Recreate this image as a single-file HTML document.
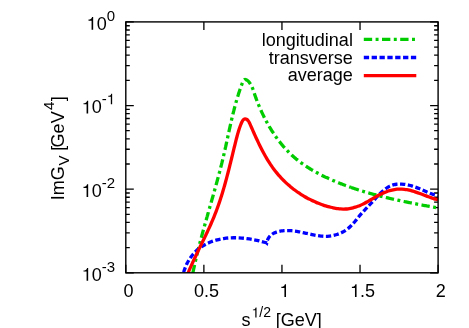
<!DOCTYPE html>
<html><head><meta charset="utf-8"><title>plot</title>
<style>html,body{margin:0;padding:0;background:#fff;overflow:hidden}body{width:469px;height:328px;position:relative;font-family:"Liberation Sans",sans-serif}</style>
</head><body>
<svg width="469" height="328" viewBox="0 0 469 328" style="display:block;position:absolute;left:0;top:0;will-change:transform">
<defs><clipPath id="pc"><rect x="123.80" y="19.90" width="314.70" height="253.20"/></clipPath></defs>
<rect width="469" height="328" fill="#fff"/>
<path d="M125.80,21.90h8M438.10,21.90h-8M125.80,80.36h4M438.10,80.36h-4M125.80,65.63h4M438.10,65.63h-4M125.80,55.18h4M438.10,55.18h-4M125.80,47.08h4M438.10,47.08h-4M125.80,40.45h4M438.10,40.45h-4M125.80,34.85h4M438.10,34.85h-4M125.80,30.00h4M438.10,30.00h-4M125.80,25.73h4M438.10,25.73h-4M125.80,105.53h8M438.10,105.53h-8M125.80,163.99h4M438.10,163.99h-4M125.80,149.26h4M438.10,149.26h-4M125.80,138.81h4M438.10,138.81h-4M125.80,130.71h4M438.10,130.71h-4M125.80,124.09h4M438.10,124.09h-4M125.80,118.49h4M438.10,118.49h-4M125.80,113.64h4M438.10,113.64h-4M125.80,109.36h4M438.10,109.36h-4M125.80,189.17h8M438.10,189.17h-8M125.80,247.62h4M438.10,247.62h-4M125.80,232.90h4M438.10,232.90h-4M125.80,222.45h4M438.10,222.45h-4M125.80,214.34h4M438.10,214.34h-4M125.80,207.72h4M438.10,207.72h-4M125.80,202.12h4M438.10,202.12h-4M125.80,197.27h4M438.10,197.27h-4M125.80,192.99h4M438.10,192.99h-4M125.80,272.80h8M438.10,272.80h-8M125.80,272.80v-8M125.80,21.90v8M203.88,272.80v-8M203.88,21.90v8M281.95,272.80v-8M281.95,21.90v8M360.03,272.80v-8M360.03,21.90v8M438.10,272.80v-8M438.10,21.90v8" stroke="#000" stroke-width="1.3" fill="none"/>
<g clip-path="url(#pc)" fill="none" stroke-width="3.3" stroke-linejoin="miter">
<path d="M192.24,276.07C192.28,275.89 192.39,275.33 192.46,274.96C192.54,274.59 192.61,274.22 192.69,273.84C192.76,273.47 192.84,273.10 192.91,272.73C192.99,272.36 193.07,271.99 193.14,271.62C193.22,271.25 193.30,270.88 193.37,270.51C193.45,270.14 193.53,269.77 193.61,269.40C193.69,269.03 193.77,268.66 193.84,268.29C193.92,267.92 194.00,267.55 194.08,267.18C194.16,266.81 194.24,266.44 194.33,266.07C194.41,265.70 194.49,265.33 194.57,264.96C194.65,264.59 194.73,264.22 194.82,263.85C194.90,263.48 194.98,263.12 195.07,262.75C195.15,262.38 195.23,262.01 195.32,261.64C195.40,261.27 195.49,260.90 195.57,260.53C195.66,260.16 195.74,259.80 195.83,259.43C195.92,259.06 196.00,258.69 196.09,258.32C196.18,257.95 196.26,257.59 196.35,257.22C196.44,256.85 196.52,256.48 196.61,256.11C196.70,255.75 196.79,255.38 196.88,255.01C196.97,254.64 197.06,254.27 197.15,253.91C197.24,253.54 197.32,253.17 197.41,252.80C197.51,252.44 197.60,252.07 197.69,251.70C197.78,251.34 197.87,250.97 197.96,250.60C198.05,250.23 198.14,249.87 198.23,249.50C198.33,249.13 198.42,248.77 198.51,248.40C198.60,248.03 198.70,247.66 198.79,247.30C198.88,246.93 198.98,246.56 199.07,246.20C199.16,245.83 199.26,245.46 199.35,245.10C199.45,244.73 199.54,244.37 199.64,244.00C199.73,243.63 199.83,243.27 199.92,242.90C200.02,242.53 200.11,242.17 200.21,241.80C200.31,241.44 200.40,241.07 200.50,240.70C200.59,240.34 200.69,239.97 200.79,239.61C200.88,239.24 200.98,238.87 201.08,238.51C201.18,238.14 201.27,237.78 201.37,237.41C201.47,237.05 201.57,236.68 201.67,236.31C201.76,235.95 201.86,235.58 201.96,235.22C202.06,234.85 202.16,234.49 202.26,234.12C202.36,233.76 202.46,233.39 202.56,233.02C202.65,232.66 202.75,232.29 202.85,231.93C202.95,231.56 203.05,231.20 203.15,230.83C203.25,230.47 203.35,230.10 203.45,229.74C203.56,229.37 203.66,229.01 203.76,228.64C203.86,228.28 203.96,227.91 204.06,227.55C204.16,227.18 204.26,226.82 204.36,226.45C204.46,226.09 204.57,225.72 204.67,225.36C204.77,224.99 204.87,224.63 204.97,224.27C205.07,223.90 205.18,223.54 205.28,223.17C205.38,222.81 205.48,222.44 205.59,222.08C205.69,221.71 205.79,221.35 205.89,220.98C205.99,220.62 206.10,220.25 206.20,219.89C206.30,219.53 206.41,219.16 206.51,218.80C206.61,218.43 206.71,218.07 206.82,217.70C206.92,217.34 207.02,216.97 207.13,216.61C207.23,216.25 207.33,215.88 207.44,215.52C207.54,215.15 207.64,214.79 207.75,214.42C207.85,214.06 207.95,213.70 208.06,213.33C208.16,212.97 208.26,212.60 208.37,212.24C208.47,211.87 208.58,211.51 208.68,211.15C208.78,210.78 208.89,210.42 208.99,210.05C209.09,209.69 209.20,209.32 209.30,208.96C209.41,208.60 209.51,208.23 209.61,207.87C209.72,207.50 209.82,207.14 209.92,206.77C210.03,206.41 210.13,206.05 210.24,205.68C210.34,205.32 210.44,204.95 210.55,204.59C210.65,204.23 210.75,203.86 210.86,203.50C210.96,203.13 211.07,202.77 211.17,202.40C211.27,202.04 211.38,201.68 211.48,201.31C211.58,200.95 211.69,200.58 211.79,200.22C211.89,199.85 212.00,199.49 212.10,199.13C212.20,198.76 212.31,198.40 212.41,198.03C212.51,197.67 212.62,197.30 212.72,196.94C212.82,196.58 212.93,196.21 213.03,195.85C213.13,195.48 213.23,195.12 213.34,194.75C213.44,194.39 213.54,194.03 213.65,193.66C213.75,193.30 213.85,192.93 213.95,192.57C214.06,192.20 214.16,191.84 214.26,191.47C214.36,191.11 214.46,190.74 214.57,190.38C214.67,190.02 214.77,189.65 214.87,189.29C214.97,188.92 215.07,188.56 215.18,188.19C215.28,187.83 215.38,187.46 215.48,187.10C215.58,186.73 215.68,186.37 215.78,186.00C215.88,185.64 215.98,185.27 216.08,184.91C216.18,184.54 216.28,184.18 216.38,183.81C216.48,183.45 216.58,183.08 216.68,182.72C216.78,182.35 216.88,181.99 216.98,181.62C217.08,181.26 217.18,180.89 217.28,180.53C217.38,180.16 217.48,179.80 217.58,179.43C217.68,179.07 217.77,178.70 217.87,178.34C217.97,177.97 218.07,177.61 218.17,177.24C218.27,176.88 218.36,176.51 218.46,176.15C218.56,175.78 218.65,175.41 218.75,175.05C218.85,174.68 218.95,174.32 219.04,173.95C219.14,173.59 219.23,173.22 219.33,172.85C219.43,172.49 219.52,172.12 219.62,171.76C219.71,171.39 219.81,171.02 219.90,170.66C220.00,170.29 220.09,169.93 220.19,169.56C220.28,169.19 220.38,168.83 220.47,168.46C220.56,168.10 220.66,167.73 220.75,167.36C220.84,167.00 220.94,166.63 221.03,166.26C221.12,165.90 221.21,165.53 221.31,165.16C221.40,164.80 221.49,164.43 221.58,164.06C221.67,163.70 221.76,163.33 221.86,162.96C221.95,162.60 222.04,162.23 222.13,161.86C222.22,161.49 222.31,161.13 222.40,160.76C222.49,160.39 222.57,160.03 222.66,159.66C222.75,159.29 222.84,158.92 222.93,158.56C223.02,158.19 223.11,157.82 223.19,157.45C223.28,157.09 223.37,156.72 223.45,156.35C223.54,155.98 223.63,155.61 223.71,155.25C223.80,154.88 223.88,154.51 223.97,154.14C224.06,153.77 224.14,153.41 224.22,153.04C224.31,152.67 224.39,152.30 224.48,151.93C224.56,151.56 224.64,151.19 224.73,150.83C224.81,150.46 224.89,150.09 224.98,149.72C225.06,149.35 225.14,148.98 225.22,148.61C225.31,148.24 225.39,147.88 225.47,147.51C225.55,147.14 225.63,146.77 225.72,146.40C225.80,146.03 225.88,145.66 225.96,145.29C226.04,144.92 226.12,144.55 226.20,144.18C226.28,143.82 226.36,143.45 226.44,143.08C226.52,142.71 226.60,142.34 226.69,141.97C226.77,141.60 226.85,141.23 226.93,140.86C227.01,140.49 227.09,140.12 227.17,139.75C227.25,139.38 227.33,139.01 227.41,138.64C227.49,138.27 227.57,137.90 227.65,137.53C227.73,137.17 227.80,136.80 227.88,136.43C227.96,136.06 228.04,135.69 228.12,135.32C228.20,134.95 228.28,134.58 228.36,134.21C228.44,133.84 228.52,133.47 228.61,133.10C228.69,132.73 228.77,132.36 228.85,131.99C228.93,131.62 229.01,131.25 229.09,130.88C229.17,130.51 229.25,130.14 229.33,129.77C229.41,129.40 229.49,129.03 229.57,128.66C229.66,128.29 229.74,127.92 229.82,127.55C229.90,127.18 229.98,126.82 230.06,126.45C230.15,126.08 230.23,125.71 230.31,125.34C230.39,124.97 230.48,124.60 230.56,124.23C230.64,123.86 230.73,123.49 230.81,123.12C230.89,122.75 230.98,122.38 231.06,122.01C231.15,121.64 231.23,121.27 231.32,120.90C231.40,120.54 231.49,120.17 231.57,119.80C231.66,119.43 231.75,119.06 231.83,118.69C231.92,118.32 232.01,117.95 232.09,117.58C232.18,117.21 232.27,116.85 232.36,116.48C232.45,116.11 232.53,115.74 232.62,115.37C232.71,115.00 232.80,114.63 232.89,114.27C232.98,113.90 233.07,113.53 233.16,113.16C233.26,112.79 233.35,112.42 233.44,112.05C233.53,111.69 233.62,111.32 233.72,110.95C233.81,110.58 233.91,110.21 234.00,109.85C234.09,109.48 234.19,109.11 234.29,108.74C234.38,108.38 234.48,108.01 234.57,107.64C234.67,107.27 234.77,106.91 234.87,106.54C234.97,106.17 235.06,105.80 235.16,105.44C235.26,105.07 235.36,104.70 235.46,104.34C235.57,103.97 235.67,103.60 235.77,103.23C235.87,102.87 235.97,102.50 236.08,102.13C236.18,101.77 236.29,101.40 236.39,101.04C236.50,100.67 236.60,100.30 236.71,99.94C236.82,99.57 236.93,99.21 237.03,98.84C237.14,98.47 237.25,98.11 237.36,97.74C237.47,97.38 237.58,97.01 237.70,96.65C237.81,96.28 237.92,95.92 238.03,95.55C238.15,95.19 238.26,94.82 238.38,94.46C238.49,94.09 238.61,93.73 238.73,93.36C238.85,93.00 238.96,92.63 239.08,92.27C239.20,91.91 239.32,91.54 239.44,91.18C239.57,90.81 239.69,90.45 239.81,90.09C239.93,89.72 240.06,89.36 240.18,89.00C240.31,88.63 240.44,88.27 240.56,87.91C240.69,87.55 240.82,87.18 240.95,86.82C241.08,86.46 241.21,86.10 241.34,85.73C241.47,85.37 241.60,85.01 241.74,84.65C241.87,84.29 242.01,83.92 242.14,83.56C242.28,83.21 242.42,82.84 242.56,82.50C242.71,82.16 242.85,81.83 243.01,81.52C243.16,81.22 243.32,80.93 243.50,80.67C243.67,80.42 243.85,80.19 244.04,80.01C244.23,79.83 244.43,79.69 244.65,79.60C244.87,79.51 245.10,79.46 245.35,79.48C245.60,79.49 245.86,79.56 246.13,79.67C246.40,79.79 246.69,79.95 246.97,80.15C247.25,80.34 247.54,80.57 247.82,80.83C248.11,81.08 248.39,81.37 248.66,81.66C248.94,81.96 249.20,82.28 249.45,82.59C249.70,82.91 249.94,83.24 250.17,83.58C250.40,83.91 250.61,84.25 250.81,84.60C251.02,84.95 251.21,85.30 251.40,85.66C251.58,86.01 251.76,86.38 251.93,86.74C252.09,87.11 252.25,87.48 252.41,87.85C252.56,88.22 252.71,88.60 252.85,88.97C252.99,89.35 253.13,89.73 253.26,90.11C253.40,90.49 253.52,90.87 253.65,91.25C253.78,91.63 253.90,92.01 254.02,92.39C254.14,92.76 254.27,93.14 254.39,93.52C254.51,93.89 254.63,94.27 254.75,94.64C254.87,95.01 255.00,95.37 255.12,95.74C255.24,96.10 255.37,96.47 255.49,96.83C255.62,97.19 255.75,97.54 255.87,97.90C256.00,98.25 256.13,98.61 256.26,98.96C256.39,99.31 256.52,99.66 256.65,100.01C256.78,100.36 256.92,100.71 257.05,101.05C257.18,101.40 257.32,101.75 257.45,102.09C257.59,102.43 257.73,102.78 257.86,103.12C258.00,103.46 258.14,103.81 258.28,104.15C258.42,104.49 258.56,104.83 258.70,105.17C258.85,105.51 258.99,105.86 259.14,106.20C259.28,106.54 259.43,106.88 259.57,107.22C259.72,107.56 259.87,107.90 260.02,108.24C260.17,108.59 260.32,108.93 260.47,109.27C260.62,109.61 260.77,109.95 260.93,110.29C261.08,110.63 261.24,110.97 261.39,111.31C261.55,111.65 261.71,111.99 261.86,112.33C262.02,112.67 262.18,113.01 262.34,113.35C262.50,113.69 262.67,114.03 262.83,114.37C262.99,114.71 263.16,115.04 263.32,115.38C263.49,115.72 263.65,116.06 263.82,116.40C263.99,116.73 264.16,117.07 264.33,117.41C264.50,117.75 264.67,118.08 264.85,118.42C265.02,118.75 265.19,119.09 265.37,119.43C265.54,119.76 265.72,120.10 265.90,120.43C266.07,120.77 266.25,121.10 266.43,121.43C266.61,121.77 266.79,122.10 266.98,122.43C267.16,122.76 267.34,123.10 267.53,123.43C267.71,123.76 267.90,124.09 268.09,124.42C268.27,124.75 268.46,125.08 268.65,125.41C268.84,125.74 269.03,126.07 269.22,126.40C269.42,126.72 269.61,127.05 269.80,127.38C270.00,127.70 270.20,128.03 270.39,128.35C270.59,128.68 270.79,129.00 270.99,129.33C271.19,129.65 271.39,129.98 271.59,130.30C271.79,130.62 272.00,130.94 272.20,131.26C272.41,131.58 272.61,131.90 272.82,132.22C273.03,132.54 273.23,132.86 273.44,133.18C273.65,133.49 273.87,133.81 274.08,134.13C274.29,134.44 274.50,134.76 274.72,135.07C274.93,135.39 275.15,135.70 275.37,136.01C275.58,136.32 275.80,136.63 276.02,136.95C276.24,137.26 276.46,137.56 276.69,137.87C276.91,138.18 277.13,138.49 277.36,138.80C277.58,139.10 277.81,139.41 278.04,139.71C278.26,140.02 278.49,140.32 278.72,140.62C278.95,140.92 279.18,141.22 279.42,141.52C279.65,141.82 279.88,142.12 280.12,142.42C280.36,142.72 280.59,143.01 280.83,143.31C281.07,143.60 281.31,143.90 281.55,144.19C281.79,144.48 282.03,144.78 282.27,145.07C282.52,145.36 282.76,145.65 283.01,145.93C283.25,146.22 283.50,146.51 283.75,146.79C284.00,147.08 284.25,147.36 284.50,147.65C284.75,147.93 285.00,148.21 285.26,148.49C285.51,148.77 285.77,149.05 286.02,149.33C286.28,149.60 286.54,149.88 286.80,150.16C287.06,150.43 287.32,150.70 287.58,150.97C287.84,151.25 288.11,151.52 288.37,151.79C288.64,152.05 288.90,152.32 289.17,152.59C289.44,152.85 289.71,153.12 289.98,153.38C290.25,153.64 290.52,153.90 290.79,154.16C291.06,154.42 291.34,154.68 291.61,154.94C291.89,155.20 292.17,155.45 292.45,155.70C292.72,155.96 293.00,156.21 293.28,156.46C293.57,156.71 293.85,156.96 294.13,157.20C294.42,157.45 294.70,157.70 294.99,157.94C295.27,158.18 295.56,158.43 295.85,158.67C296.14,158.91 296.43,159.15 296.72,159.38C297.01,159.62 297.31,159.86 297.60,160.09C297.90,160.33 298.19,160.56 298.49,160.79C298.78,161.02 299.08,161.25 299.38,161.48C299.68,161.71 299.98,161.94 300.28,162.16C300.58,162.39 300.88,162.61 301.19,162.83C301.49,163.06 301.80,163.28 302.10,163.50C302.41,163.72 302.71,163.94 303.02,164.15C303.33,164.37 303.64,164.59 303.95,164.80C304.26,165.01 304.57,165.23 304.88,165.44C305.19,165.65 305.51,165.86 305.82,166.07C306.13,166.28 306.45,166.49 306.76,166.69C307.08,166.90 307.40,167.10 307.72,167.31C308.03,167.51 308.35,167.71 308.67,167.91C308.99,168.11 309.31,168.31 309.63,168.51C309.96,168.71 310.28,168.91 310.60,169.10C310.92,169.30 311.25,169.49 311.57,169.69C311.90,169.88 312.22,170.07 312.55,170.26C312.88,170.45 313.20,170.64 313.53,170.83C313.86,171.02 314.19,171.21 314.52,171.40C314.85,171.58 315.18,171.77 315.51,171.95C315.84,172.13 316.17,172.32 316.51,172.50C316.84,172.68 317.17,172.86 317.51,173.04C317.84,173.22 318.18,173.40 318.51,173.57C318.85,173.75 319.18,173.93 319.52,174.10C319.86,174.28 320.19,174.45 320.53,174.62C320.87,174.80 321.21,174.97 321.55,175.14C321.89,175.31 322.23,175.48 322.57,175.65C322.91,175.82 323.25,175.98 323.59,176.15C323.93,176.32 324.27,176.48 324.61,176.65C324.96,176.81 325.30,176.97 325.64,177.14C325.99,177.30 326.33,177.46 326.67,177.62C327.02,177.78 327.36,177.94 327.71,178.10C328.05,178.26 328.40,178.42 328.74,178.58C329.09,178.73 329.44,178.89 329.78,179.04C330.13,179.20 330.48,179.35 330.82,179.51C331.17,179.66 331.52,179.81 331.87,179.96C332.21,180.12 332.56,180.27 332.91,180.42C333.26,180.57 333.61,180.72 333.96,180.86C334.31,181.01 334.66,181.16 335.01,181.31C335.36,181.45 335.71,181.60 336.06,181.74C336.41,181.89 336.76,182.03 337.11,182.18C337.46,182.32 337.81,182.46 338.16,182.60C338.51,182.75 338.87,182.89 339.22,183.03C339.57,183.17 339.92,183.31 340.27,183.45C340.63,183.59 340.98,183.72 341.33,183.86C341.68,184.00 342.04,184.13 342.39,184.27C342.74,184.41 343.10,184.54 343.45,184.68C343.80,184.81 344.16,184.94 344.51,185.08C344.87,185.21 345.22,185.34 345.58,185.47C345.93,185.60 346.29,185.73 346.64,185.86C347.00,185.99 347.35,186.12 347.71,186.25C348.06,186.38 348.42,186.51 348.78,186.63C349.13,186.76 349.49,186.89 349.85,187.01C350.20,187.14 350.74,187.32 350.92,187.39" stroke="#00cc00" stroke-dasharray="8.35 3.45 2.95 3.45" stroke-dashoffset="-3.00"/>
<path d="M350.92,187.39C351.09,187.45 351.63,187.63 351.99,187.76C352.35,187.88 352.70,188.00 353.06,188.12C353.42,188.24 353.78,188.37 354.14,188.49C354.49,188.61 354.85,188.73 355.21,188.84C355.57,188.96 355.93,189.08 356.29,189.20C356.65,189.32 357.01,189.43 357.37,189.55C357.73,189.66 358.09,189.78 358.45,189.90C358.81,190.01 359.17,190.12 359.53,190.24C359.89,190.35 360.25,190.46 360.61,190.58C360.97,190.69 361.33,190.80 361.69,190.91C362.05,191.02 362.41,191.13 362.78,191.24C363.14,191.35 363.50,191.46 363.86,191.57C364.22,191.68 364.58,191.79 364.95,191.90C365.31,192.00 365.67,192.11 366.03,192.22C366.40,192.32 366.76,192.43 367.12,192.54C367.49,192.64 367.85,192.75 368.21,192.85C368.58,192.95 368.94,193.06 369.30,193.16C369.67,193.26 370.03,193.37 370.39,193.47C370.76,193.57 371.12,193.67 371.49,193.77C371.85,193.87 372.21,193.97 372.58,194.07C372.94,194.17 373.31,194.27 373.67,194.37C374.04,194.47 374.40,194.57 374.77,194.67C375.13,194.76 375.50,194.86 375.87,194.96C376.23,195.06 376.60,195.15 376.96,195.25C377.33,195.34 377.69,195.44 378.06,195.53C378.43,195.63 378.79,195.72 379.16,195.82C379.53,195.91 379.89,196.00 380.26,196.10C380.62,196.19 380.99,196.28 381.36,196.37C381.73,196.46 382.09,196.56 382.46,196.65C382.83,196.74 383.19,196.83 383.56,196.92C383.93,197.01 384.30,197.10 384.66,197.19C385.03,197.28 385.40,197.37 385.77,197.45C386.14,197.54 386.50,197.63 386.87,197.72C387.24,197.81 387.61,197.89 387.98,197.98C388.34,198.07 388.71,198.15 389.08,198.24C389.45,198.32 389.82,198.41 390.19,198.49C390.56,198.58 390.93,198.66 391.29,198.75C391.66,198.83 392.03,198.92 392.40,199.00C392.77,199.08 393.14,199.17 393.51,199.25C393.88,199.33 394.25,199.42 394.62,199.50C394.99,199.58 395.36,199.66 395.73,199.74C396.10,199.82 396.47,199.90 396.84,199.98C397.21,200.07 397.58,200.15 397.95,200.23C398.32,200.31 398.69,200.39 399.06,200.46C399.43,200.54 399.80,200.62 400.17,200.70C400.54,200.78 400.91,200.86 401.28,200.94C401.65,201.01 402.02,201.09 402.39,201.17C402.76,201.25 403.13,201.32 403.50,201.40C403.88,201.48 404.25,201.55 404.62,201.63C404.99,201.71 405.36,201.78 405.73,201.86C406.10,201.93 406.47,202.01 406.84,202.08C407.21,202.16 407.59,202.23 407.96,202.31C408.33,202.38 408.70,202.46 409.07,202.53C409.44,202.60 409.81,202.68 410.19,202.75C410.56,202.82 410.93,202.90 411.30,202.97C411.67,203.04 412.04,203.12 412.42,203.19C412.79,203.26 413.16,203.33 413.53,203.41C413.90,203.48 414.28,203.55 414.65,203.62C415.02,203.69 415.39,203.76 415.76,203.84C416.13,203.91 416.51,203.98 416.88,204.05C417.25,204.12 417.62,204.19 417.99,204.26C418.37,204.33 418.74,204.40 419.11,204.47C419.48,204.54 419.86,204.61 420.23,204.68C420.60,204.75 420.97,204.82 421.34,204.89C421.72,204.96 422.09,205.03 422.46,205.10C422.83,205.16 423.20,205.23 423.58,205.30C423.95,205.37 424.32,205.44 424.69,205.51C425.07,205.58 425.44,205.64 425.81,205.71C426.18,205.78 426.56,205.85 426.93,205.92C427.30,205.98 427.67,206.05 428.04,206.12C428.42,206.19 428.79,206.25 429.16,206.32C429.53,206.39 429.91,206.46 430.28,206.52C430.65,206.59 431.02,206.66 431.39,206.72C431.77,206.79 432.14,206.86 432.51,206.92C432.88,206.99 433.26,207.06 433.63,207.12C434.00,207.19 434.37,207.26 434.74,207.32C435.12,207.39 435.49,207.46 435.86,207.52C436.23,207.59 436.60,207.65 436.98,207.72C437.35,207.79 437.91,207.89 438.09,207.92" stroke="#00cc00" stroke-dasharray="8.35 3.45 2.95 3.45"/>
<path d="M182.83,275.70C182.94,275.26 183.22,273.97 183.45,273.11C183.67,272.26 183.92,271.41 184.18,270.58C184.45,269.74 184.74,268.91 185.05,268.09C185.36,267.28 185.69,266.47 186.04,265.67C186.38,264.88 186.75,264.09 187.14,263.32C187.53,262.55 187.94,261.79 188.37,261.04C188.80,260.30 189.24,259.56 189.71,258.85C190.17,258.13 190.66,257.43 191.16,256.74C191.67,256.05 192.19,255.38 192.73,254.73C193.27,254.08 193.82,253.44 194.40,252.83C194.97,252.21 195.57,251.61 196.17,251.03C196.78,250.45 197.41,249.89 198.05,249.36C198.70,248.82 199.36,248.30 200.03,247.80C200.71,247.31 201.40,246.83 202.10,246.37C202.80,245.91 203.52,245.48 204.25,245.06C204.98,244.64 205.73,244.24 206.48,243.86C207.24,243.48 208.01,243.12 208.78,242.78C209.56,242.44 210.35,242.12 211.14,241.81C211.94,241.51 212.74,241.22 213.56,240.95C214.37,240.68 215.19,240.43 216.01,240.20C216.84,239.97 217.67,239.75 218.51,239.55C219.35,239.36 220.19,239.17 221.04,239.01C221.88,238.85 222.74,238.70 223.59,238.57C224.44,238.44 225.30,238.32 226.15,238.22C227.01,238.12 227.87,238.04 228.73,237.97C229.59,237.91 230.45,237.85 231.30,237.82C232.16,237.78 233.02,237.76 233.88,237.75C234.74,237.74 235.60,237.75 236.46,237.76C237.32,237.78 238.17,237.82 239.03,237.86C239.89,237.90 240.74,237.96 241.60,238.03C242.45,238.10 243.31,238.18 244.16,238.27C245.01,238.37 245.87,238.47 246.71,238.58C247.56,238.70 248.41,238.82 249.26,238.95C250.10,239.09 250.95,239.23 251.79,239.38C252.63,239.54 253.47,239.70 254.31,239.87C255.15,240.04 255.98,240.22 256.81,240.40C257.64,240.59 258.47,240.78 259.30,240.98C260.12,241.18 260.94,241.39 261.76,241.60C262.58,241.82 263.40,242.04 264.21,242.26C265.02,242.48 266.23,242.83 266.63,242.95L266.74,243.04C266.86,242.57 267.14,241.08 267.45,240.21C267.77,239.34 268.17,238.56 268.62,237.84C269.07,237.12 269.59,236.47 270.16,235.88C270.73,235.29 271.36,234.77 272.03,234.30C272.69,233.83 273.41,233.42 274.15,233.06C274.89,232.70 275.67,232.39 276.46,232.11C277.25,231.84 278.08,231.62 278.90,231.43C279.73,231.23 280.57,231.08 281.41,230.96C282.24,230.83 283.09,230.74 283.93,230.67C284.77,230.60 285.62,230.56 286.47,230.55C287.31,230.53 288.16,230.55 289.01,230.58C289.86,230.61 290.71,230.66 291.57,230.73C292.42,230.81 293.27,230.90 294.12,231.01C294.98,231.11 295.83,231.24 296.69,231.38C297.54,231.51 298.39,231.66 299.25,231.82C300.10,231.98 300.95,232.16 301.80,232.33C302.66,232.51 303.51,232.70 304.36,232.89C305.21,233.07 306.06,233.27 306.91,233.46C307.76,233.65 308.60,233.84 309.45,234.03C310.30,234.22 311.15,234.41 311.99,234.58C312.84,234.76 313.69,234.94 314.53,235.09C315.38,235.25 316.22,235.41 317.06,235.54C317.91,235.68 318.75,235.80 319.59,235.91C320.43,236.01 321.27,236.10 322.11,236.16C322.95,236.23 323.79,236.28 324.63,236.30C325.47,236.31 326.31,236.31 327.14,236.28C327.98,236.25 328.82,236.19 329.65,236.10C330.48,236.01 331.32,235.89 332.14,235.74C332.97,235.59 333.79,235.41 334.61,235.21C335.42,235.00 336.24,234.77 337.04,234.50C337.84,234.24 338.63,233.95 339.41,233.63C340.20,233.31 340.97,232.96 341.73,232.58C342.48,232.21 343.23,231.80 343.96,231.37C344.69,230.94 345.41,230.48 346.11,229.99C346.80,229.50 347.49,228.99 348.15,228.44C348.81,227.90 349.45,227.33 350.08,226.74C350.71,226.15 351.31,225.53 351.91,224.90C352.50,224.27 353.08,223.62 353.66,222.96C354.23,222.30 354.79,221.63 355.35,220.96C355.90,220.28 356.45,219.60 357.00,218.92C357.54,218.25 358.08,217.57 358.63,216.90C359.18,216.23 359.72,215.57 360.27,214.92C360.82,214.27 361.37,213.64 361.93,213.01C362.48,212.38 363.04,211.76 363.61,211.15C364.17,210.54 364.74,209.93 365.31,209.33C365.87,208.72 366.45,208.13 367.02,207.53C367.60,206.93 368.17,206.33 368.75,205.73C369.33,205.12 369.91,204.52 370.50,203.91C371.08,203.30 371.66,202.68 372.25,202.06C372.84,201.43 373.43,200.79 374.02,200.15C374.61,199.51 375.20,198.85 375.79,198.20C376.39,197.55 376.99,196.89 377.59,196.24C378.20,195.59 378.81,194.94 379.43,194.30C380.04,193.67 380.67,193.04 381.30,192.43C381.94,191.82 382.58,191.23 383.23,190.66C383.88,190.10 384.55,189.55 385.22,189.04C385.90,188.52 386.59,188.03 387.29,187.59C387.99,187.14 388.71,186.72 389.44,186.35C390.17,185.98 390.92,185.65 391.68,185.37C392.45,185.10 393.23,184.86 394.03,184.68C394.82,184.49 395.63,184.34 396.45,184.24C397.27,184.14 398.11,184.07 398.95,184.05C399.79,184.02 400.64,184.03 401.49,184.07C402.34,184.12 403.20,184.19 404.06,184.30C404.92,184.40 405.78,184.54 406.64,184.70C407.50,184.86 408.36,185.05 409.21,185.25C410.07,185.46 410.92,185.69 411.76,185.94C412.61,186.18 413.45,186.45 414.27,186.73C415.10,187.01 415.91,187.31 416.72,187.61C417.52,187.92 418.32,188.24 419.10,188.56C419.89,188.88 420.66,189.21 421.44,189.55C422.21,189.88 422.98,190.22 423.74,190.56C424.51,190.90 425.27,191.24 426.04,191.57C426.81,191.90 427.58,192.24 428.35,192.56C429.13,192.88 429.91,193.20 430.70,193.50C431.49,193.81 432.28,194.11 433.09,194.39C433.90,194.66 434.72,194.93 435.56,195.18C436.39,195.43 437.69,195.75 438.11,195.86" stroke="#0000ff" stroke-dasharray="5.3 2.55" stroke-dashoffset="-3.50"/>
<path d="M186.73,276.44C186.88,276.05 187.34,274.88 187.66,274.10C187.97,273.32 188.29,272.54 188.61,271.77C188.93,270.99 189.26,270.22 189.59,269.45C189.92,268.67 190.25,267.90 190.59,267.13C190.92,266.36 191.26,265.60 191.61,264.83C191.95,264.06 192.30,263.30 192.65,262.53C192.99,261.77 193.35,261.00 193.70,260.24C194.05,259.48 194.41,258.71 194.77,257.95C195.12,257.19 195.48,256.43 195.85,255.67C196.21,254.91 196.57,254.15 196.94,253.40C197.30,252.64 197.67,251.88 198.03,251.12C198.40,250.36 198.77,249.61 199.13,248.85C199.50,248.09 199.87,247.33 200.24,246.58C200.61,245.82 200.98,245.06 201.35,244.31C201.72,243.55 202.09,242.79 202.45,242.04C202.82,241.28 203.19,240.52 203.56,239.76C203.93,239.01 204.29,238.25 204.66,237.49C205.02,236.73 205.39,235.97 205.75,235.21C206.11,234.45 206.47,233.69 206.83,232.93C207.19,232.17 207.55,231.41 207.91,230.65C208.26,229.88 208.62,229.12 208.97,228.36C209.32,227.59 209.67,226.83 210.01,226.06C210.36,225.29 210.70,224.52 211.04,223.75C211.38,222.98 211.72,222.21 212.05,221.44C212.38,220.67 212.71,219.90 213.04,219.12C213.36,218.35 213.69,217.57 214.00,216.79C214.32,216.01 214.64,215.23 214.94,214.45C215.25,213.67 215.56,212.88 215.86,212.10C216.16,211.31 216.46,210.53 216.75,209.74C217.04,208.95 217.33,208.16 217.61,207.37C217.90,206.57 218.18,205.78 218.46,204.99C218.74,204.19 219.01,203.39 219.28,202.60C219.55,201.80 219.82,201.00 220.08,200.20C220.34,199.40 220.60,198.60 220.86,197.80C221.12,196.99 221.37,196.19 221.62,195.39C221.88,194.58 222.12,193.77 222.37,192.97C222.61,192.16 222.86,191.35 223.10,190.54C223.34,189.74 223.57,188.93 223.81,188.12C224.04,187.31 224.28,186.49 224.51,185.68C224.74,184.87 224.96,184.06 225.19,183.24C225.42,182.43 225.64,181.62 225.86,180.80C226.08,179.99 226.30,179.17 226.52,178.36C226.74,177.54 226.96,176.73 227.17,175.91C227.38,175.09 227.60,174.28 227.81,173.46C228.02,172.64 228.23,171.83 228.44,171.01C228.65,170.19 228.85,169.37 229.06,168.55C229.27,167.74 229.47,166.92 229.68,166.10C229.88,165.28 230.08,164.46 230.29,163.65C230.49,162.83 230.69,162.01 230.89,161.19C231.09,160.38 231.29,159.56 231.49,158.74C231.69,157.92 231.89,157.11 232.09,156.29C232.29,155.47 232.49,154.66 232.69,153.84C232.89,153.02 233.09,152.21 233.28,151.39C233.48,150.58 233.68,149.76 233.88,148.95C234.08,148.14 234.28,147.32 234.48,146.51C234.68,145.70 234.88,144.88 235.08,144.07C235.28,143.26 235.48,142.45 235.68,141.64C235.88,140.83 236.08,140.02 236.29,139.21C236.50,138.40 236.70,137.60 236.91,136.79C237.13,135.98 237.34,135.17 237.57,134.36C237.79,133.55 238.02,132.73 238.27,131.92C238.51,131.10 238.77,130.28 239.03,129.46C239.30,128.64 239.58,127.81 239.88,126.98C240.18,126.15 240.49,125.32 240.82,124.48C241.16,123.64 241.49,122.73 241.88,121.95C242.28,121.18 242.68,120.34 243.18,119.84C243.69,119.34 244.31,119.01 244.93,118.95C245.55,118.90 246.30,119.16 246.89,119.52C247.47,119.88 248.00,120.48 248.45,121.10C248.91,121.73 249.26,122.52 249.63,123.28C250.00,124.04 250.33,124.86 250.68,125.65C251.03,126.44 251.38,127.23 251.73,128.02C252.08,128.81 252.42,129.60 252.77,130.39C253.12,131.18 253.47,131.96 253.83,132.75C254.18,133.54 254.53,134.32 254.89,135.11C255.24,135.89 255.59,136.67 255.95,137.46C256.31,138.24 256.67,139.02 257.03,139.79C257.39,140.57 257.76,141.35 258.13,142.12C258.49,142.89 258.86,143.67 259.24,144.43C259.61,145.20 259.99,145.97 260.37,146.73C260.75,147.49 261.13,148.25 261.52,149.01C261.91,149.77 262.30,150.52 262.69,151.27C263.09,152.02 263.49,152.77 263.90,153.51C264.30,154.25 264.71,154.99 265.13,155.73C265.54,156.46 265.96,157.19 266.39,157.92C266.82,158.64 267.25,159.37 267.69,160.08C268.13,160.80 268.57,161.51 269.02,162.22C269.48,162.92 269.93,163.63 270.40,164.32C270.86,165.02 271.34,165.71 271.82,166.40C272.30,167.08 272.78,167.76 273.28,168.43C273.77,169.11 274.27,169.78 274.79,170.44C275.30,171.10 275.82,171.75 276.34,172.40C276.87,173.05 277.40,173.69 277.95,174.33C278.49,174.96 279.04,175.59 279.60,176.22C280.16,176.84 280.72,177.45 281.29,178.06C281.87,178.67 282.45,179.27 283.03,179.87C283.62,180.46 284.22,181.05 284.82,181.63C285.42,182.21 286.03,182.79 286.65,183.35C287.26,183.92 287.89,184.48 288.52,185.03C289.15,185.58 289.78,186.12 290.43,186.66C291.07,187.19 291.72,187.72 292.37,188.24C293.03,188.76 293.69,189.28 294.36,189.78C295.03,190.28 295.71,190.78 296.39,191.27C297.07,191.76 297.76,192.24 298.45,192.71C299.15,193.18 299.85,193.65 300.55,194.10C301.26,194.56 301.97,195.01 302.68,195.44C303.40,195.88 304.12,196.31 304.85,196.73C305.58,197.16 306.31,197.57 307.05,197.97C307.79,198.38 308.54,198.77 309.28,199.16C310.03,199.54 310.79,199.92 311.55,200.29C312.31,200.65 313.07,201.01 313.84,201.36C314.61,201.71 315.38,202.05 316.16,202.38C316.94,202.71 317.73,203.03 318.51,203.34C319.30,203.65 320.09,203.95 320.89,204.24C321.69,204.53 322.49,204.82 323.30,205.09C324.10,205.36 324.91,205.62 325.72,205.87C326.54,206.12 327.36,206.37 328.18,206.60C329.00,206.83 329.82,207.05 330.65,207.26C331.48,207.46 332.31,207.66 333.15,207.84C333.98,208.02 334.82,208.19 335.65,208.33C336.49,208.48 337.33,208.61 338.16,208.71C339.00,208.82 339.84,208.90 340.67,208.96C341.51,209.02 342.35,209.06 343.18,209.07C344.01,209.08 344.85,209.06 345.67,209.01C346.50,208.97 347.33,208.89 348.15,208.78C348.97,208.68 349.79,208.55 350.61,208.39C351.42,208.23 352.23,208.05 353.04,207.84C353.84,207.63 354.64,207.40 355.44,207.15C356.23,206.90 357.02,206.63 357.81,206.33C358.59,206.04 359.37,205.73 360.14,205.40C360.91,205.07 361.67,204.73 362.43,204.37C363.18,204.00 363.93,203.63 364.68,203.24C365.42,202.85 366.15,202.45 366.88,202.04C367.62,201.63 368.34,201.21 369.07,200.79C369.79,200.37 370.51,199.94 371.24,199.51C371.96,199.08 372.68,198.65 373.40,198.22C374.13,197.79 374.86,197.36 375.59,196.94C376.32,196.52 377.05,196.11 377.80,195.70C378.54,195.30 379.29,194.90 380.05,194.51C380.80,194.13 381.57,193.76 382.35,193.40C383.12,193.05 383.91,192.71 384.70,192.39C385.50,192.07 386.30,191.76 387.10,191.48C387.91,191.20 388.73,190.94 389.54,190.70C390.36,190.46 391.18,190.24 392.01,190.05C392.83,189.86 393.66,189.70 394.49,189.56C395.32,189.42 396.15,189.31 396.98,189.23C397.81,189.15 398.64,189.09 399.47,189.07C400.30,189.05 401.12,189.07 401.95,189.11C402.77,189.15 403.59,189.22 404.41,189.32C405.23,189.41 406.05,189.54 406.87,189.68C407.68,189.83 408.50,190.00 409.31,190.19C410.12,190.37 410.93,190.58 411.74,190.81C412.55,191.03 413.36,191.27 414.17,191.52C414.97,191.78 415.78,192.04 416.58,192.32C417.39,192.60 418.19,192.88 418.99,193.18C419.79,193.47 420.59,193.77 421.39,194.07C422.19,194.37 422.99,194.68 423.79,194.99C424.59,195.29 425.38,195.60 426.18,195.90C426.97,196.21 427.77,196.51 428.56,196.80C429.36,197.10 430.15,197.39 430.94,197.66C431.74,197.94 432.53,198.21 433.32,198.47C434.12,198.72 434.91,198.97 435.70,199.20C436.49,199.42 437.68,199.73 438.07,199.83" stroke="#ff0000"/>
</g>
<rect x="125.80" y="21.90" width="312.30" height="250.90" fill="none" stroke="#000" stroke-width="1.4"/>
<g fill="none" stroke-width="3.3">
<path d="M363.8,39.3H416.3" stroke="#00cc00" stroke-dasharray="8.35 3.45 2.95 3.45"/>
<path d="M363.8,57.5H416.3" stroke="#0000ff" stroke-dasharray="5.3 2.55"/>
<path d="M363.8,75.7H416.3" stroke="#ff0000"/>
</g>
<g font-family="'Liberation Sans', sans-serif" font-size="18.05" fill="#000">
<text x="352.9" y="45.7" text-anchor="end">longitudinal</text>
<text x="352.9" y="63.5" text-anchor="end">transverse</text>
<text x="352.9" y="81.3" text-anchor="end">average</text>
<text x="128.40" y="297.0" text-anchor="middle">0</text>
<text x="206.47" y="297.0" text-anchor="middle">0.5</text>
<path d="M359,0L271,0L271,505L101,505L101,568C195,572 272,582 299,709L359,709Z" transform="translate(279.53,297.00) scale(0.01805,-0.01805)"/>
<path d="M359,0L271,0L271,505L101,505L101,568C195,572 272,582 299,709L359,709Z" transform="translate(350.08,297.00) scale(0.01805,-0.01805)"/>
<text x="360.12" y="297.0">.5</text>
<text x="440.70" y="297.0" text-anchor="middle">2</text>
<path d="M359,0L271,0L271,505L101,505L101,568C195,572 272,582 299,709L359,709Z" transform="translate(86.69,29.80) scale(0.01805,-0.01805)"/>
<text x="96.72" y="29.80">0</text>
<text x="106.76" y="20.70" font-size="15.00">0</text>
<path d="M359,0L271,0L271,505L101,505L101,568C195,572 272,582 299,709L359,709Z" transform="translate(81.69,113.43) scale(0.01805,-0.01805)"/>
<text x="91.73" y="113.43">0</text>
<text x="101.76" y="104.33" font-size="15.00">-</text>
<path d="M359,0L271,0L271,505L101,505L101,568C195,572 272,582 299,709L359,709Z" transform="translate(106.76,104.33) scale(0.01500,-0.01500)"/>
<path d="M359,0L271,0L271,505L101,505L101,568C195,572 272,582 299,709L359,709Z" transform="translate(81.69,197.07) scale(0.01805,-0.01805)"/>
<text x="91.73" y="197.07">0</text>
<text x="101.76" y="187.97" font-size="15.00">-2</text>
<path d="M359,0L271,0L271,505L101,505L101,568C195,572 272,582 299,709L359,709Z" transform="translate(81.69,280.70) scale(0.01805,-0.01805)"/>
<text x="91.73" y="280.70">0</text>
<text x="101.76" y="271.60" font-size="15.00">-3</text>
<text x="241.5" y="326.4">s</text>
<path d="M359,0L271,0L271,505L101,505L101,568C195,572 272,582 299,709L359,709Z" transform="translate(251.50,317.40) scale(0.01400,-0.01400)"/>
<text x="259.28" y="317.4" font-size="14.0">/2</text><text x="275.75" y="326.4">[GeV]</text>
<g transform="translate(63.8,200.3) rotate(-90)">
<text x="0" y="0">ImG</text>
<text x="34.9" y="5.3" font-size="15.00">V</text>
<text x="49.6" y="0">[</text>
<text x="52.9" y="0">GeV</text>
<text x="90.4" y="-9.9" font-size="15.00">4</text>
<text x="99.0" y="0">]</text>
</g>
</g>
</svg>
</body></html>
